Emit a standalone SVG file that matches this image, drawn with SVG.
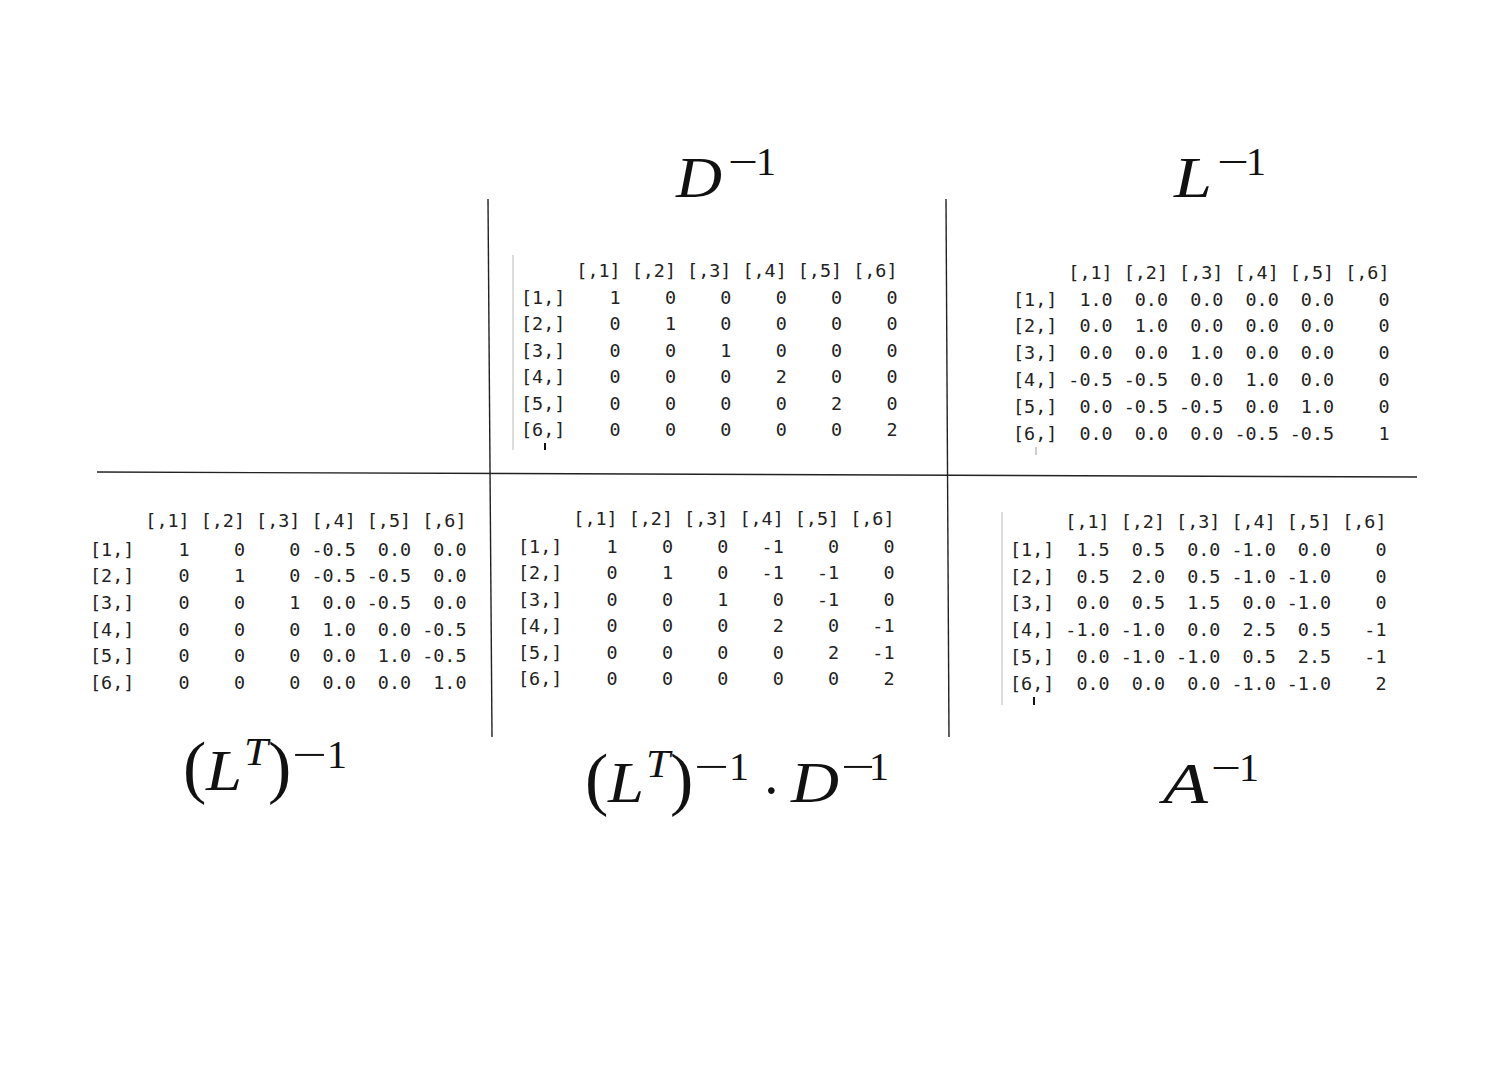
<svg xmlns="http://www.w3.org/2000/svg" width="1508" height="1067" viewBox="0 0 1508 1067">
<style>
.m{font-family:"DejaVu Sans Mono",monospace;font-size:18.4px;fill:#222;white-space:pre}
.it{font-family:"Liberation Serif",serif;font-style:italic;font-size:56px;fill:#111}
.par{font-family:"Liberation Serif",serif;font-size:70px;fill:#111}
.dot{font-family:"Liberation Serif",serif;font-size:56px;fill:#111}
.sup{font-family:"Liberation Serif",serif;font-size:40px;fill:#111}
.supit{font-family:"Liberation Serif",serif;font-style:italic;font-size:40px;fill:#111}
.grid{stroke:#222;stroke-width:1.4;fill:none}
.margin{stroke:#ddd;stroke-width:2}
.cur{stroke:#111;stroke-width:2}
</style>
<rect width="1508" height="1067" fill="#fff"/>
<g id="grid-lines">
<line class="grid" x1="97" y1="472" x2="1417" y2="477"/>
<line class="grid" x1="488" y1="199" x2="492" y2="737"/>
<line class="grid" x1="946" y1="199" x2="949" y2="737"/>
</g>
<g id="D-inv" xml:space="preserve">
<line class="margin" x1="513" y1="255" x2="513" y2="450"/>
<line class="cur" x1="545" y1="443" x2="545" y2="450"/>
<text class="m" x="521" y="277">     [,1] [,2] [,3] [,4] [,5] [,6]</text>
<text class="m" x="521" y="303.5">[1,]    1    0    0    0    0    0</text>
<text class="m" x="521" y="330">[2,]    0    1    0    0    0    0</text>
<text class="m" x="521" y="356.5">[3,]    0    0    1    0    0    0</text>
<text class="m" x="521" y="383">[4,]    0    0    0    2    0    0</text>
<text class="m" x="521" y="409.5">[5,]    0    0    0    0    2    0</text>
<text class="m" x="521" y="436">[6,]    0    0    0    0    0    2</text>
</g>
<g id="L-inv" xml:space="preserve">
<line class="margin" x1="1036" y1="447" x2="1036" y2="455" style="stroke:#ccc"/>
<text class="m" x="1013" y="278.5">     [,1] [,2] [,3] [,4] [,5] [,6]</text>
<text class="m" x="1013" y="305.5">[1,]  1.0  0.0  0.0  0.0  0.0    0</text>
<text class="m" x="1013" y="332.3">[2,]  0.0  1.0  0.0  0.0  0.0    0</text>
<text class="m" x="1013" y="359.1">[3,]  0.0  0.0  1.0  0.0  0.0    0</text>
<text class="m" x="1013" y="385.9">[4,] -0.5 -0.5  0.0  1.0  0.0    0</text>
<text class="m" x="1013" y="412.7">[5,]  0.0 -0.5 -0.5  0.0  1.0    0</text>
<text class="m" x="1013" y="439.5">[6,]  0.0  0.0  0.0 -0.5 -0.5    1</text>
</g>
<g id="LT-inv" xml:space="preserve">
<text class="m" x="90" y="527">     [,1] [,2] [,3] [,4] [,5] [,6]</text>
<text class="m" x="90" y="555.7">[1,]    1    0    0 -0.5  0.0  0.0</text>
<text class="m" x="90" y="582.3">[2,]    0    1    0 -0.5 -0.5  0.0</text>
<text class="m" x="90" y="608.9">[3,]    0    0    1  0.0 -0.5  0.0</text>
<text class="m" x="90" y="635.5">[4,]    0    0    0  1.0  0.0 -0.5</text>
<text class="m" x="90" y="662.1">[5,]    0    0    0  0.0  1.0 -0.5</text>
<text class="m" x="90" y="688.7">[6,]    0    0    0  0.0  0.0  1.0</text>
</g>
<g id="LT-inv-D-inv" xml:space="preserve">
<text class="m" x="518" y="525">     [,1] [,2] [,3] [,4] [,5] [,6]</text>
<text class="m" x="518" y="552.7">[1,]    1    0    0   -1    0    0</text>
<text class="m" x="518" y="579.2">[2,]    0    1    0   -1   -1    0</text>
<text class="m" x="518" y="605.7">[3,]    0    0    1    0   -1    0</text>
<text class="m" x="518" y="632.2">[4,]    0    0    0    2    0   -1</text>
<text class="m" x="518" y="658.7">[5,]    0    0    0    0    2   -1</text>
<text class="m" x="518" y="685.2">[6,]    0    0    0    0    0    2</text>
</g>
<g id="A-inv" xml:space="preserve">
<line class="margin" x1="1002" y1="512" x2="1002" y2="705"/>
<line class="cur" x1="1034" y1="697" x2="1034" y2="705"/>
<text class="m" x="1010" y="528">     [,1] [,2] [,3] [,4] [,5] [,6]</text>
<text class="m" x="1010" y="555.7">[1,]  1.5  0.5  0.0 -1.0  0.0    0</text>
<text class="m" x="1010" y="582.5">[2,]  0.5  2.0  0.5 -1.0 -1.0    0</text>
<text class="m" x="1010" y="609.3">[3,]  0.0  0.5  1.5  0.0 -1.0    0</text>
<text class="m" x="1010" y="636.1">[4,] -1.0 -1.0  0.0  2.5  0.5   -1</text>
<text class="m" x="1010" y="662.9">[5,]  0.0 -1.0 -1.0  0.5  2.5   -1</text>
<text class="m" x="1010" y="689.7">[6,]  0.0  0.0  0.0 -1.0 -1.0    2</text>
</g>
<g id="label-D-inv">
<text class="it" x="676" y="197" textLength="46" lengthAdjust="spacingAndGlyphs">D</text>
<text class="sup" x="728" y="175" textLength="30" lengthAdjust="spacingAndGlyphs">−</text>
<text class="sup" x="756" y="175">1</text>
</g>
<g id="label-L-inv">
<text class="it" x="1174" y="197" textLength="38" lengthAdjust="spacingAndGlyphs">L</text>
<text class="sup" x="1217" y="175" textLength="32" lengthAdjust="spacingAndGlyphs">−</text>
<text class="sup" x="1246" y="175">1</text>
</g>
<g id="label-LT-inv">
<text class="par" x="183" y="790">(</text>
<text class="it" x="206" y="790" textLength="36" lengthAdjust="spacingAndGlyphs">L</text>
<text class="supit" x="244" y="765" textLength="24" lengthAdjust="spacingAndGlyphs">T</text>
<text class="par" x="268" y="790">)</text>
<text class="sup" x="292" y="768" textLength="35" lengthAdjust="spacingAndGlyphs">−</text>
<text class="sup" x="327" y="768">1</text>
</g>
<g id="label-LT-inv-D-inv">
<text class="par" x="585" y="802">(</text>
<text class="it" x="608" y="802" textLength="36" lengthAdjust="spacingAndGlyphs">L</text>
<text class="supit" x="646" y="777" textLength="24" lengthAdjust="spacingAndGlyphs">T</text>
<text class="par" x="670" y="802">)</text>
<text class="sup" x="694" y="780" textLength="35" lengthAdjust="spacingAndGlyphs">−</text>
<text class="sup" x="729" y="780">1</text>
<text class="dot" x="762" y="810">·</text>
<text class="it" x="791" y="802" textLength="48" lengthAdjust="spacingAndGlyphs">D</text>
<text class="sup" x="841" y="780" textLength="34" lengthAdjust="spacingAndGlyphs">−</text>
<text class="sup" x="869" y="780">1</text>
</g>
<g id="label-A-inv">
<text class="it" x="1163" y="803" textLength="45" lengthAdjust="spacingAndGlyphs">A</text>
<text class="sup" x="1211" y="781" textLength="30" lengthAdjust="spacingAndGlyphs">−</text>
<text class="sup" x="1239" y="781">1</text>
</g>
</svg>
